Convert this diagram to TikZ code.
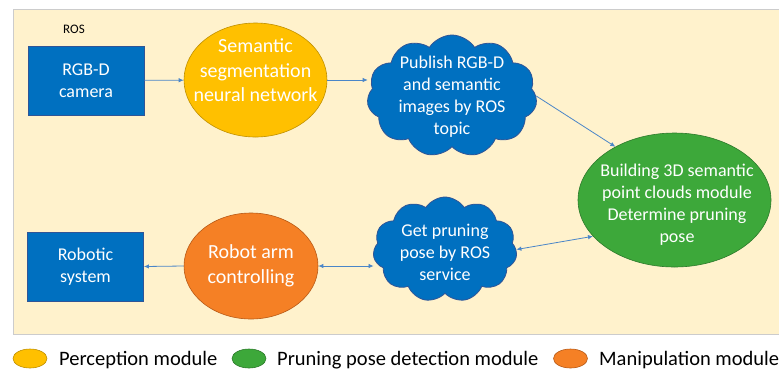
\documentclass[tikz,border=0pt]{standalone}
\usepackage{fontspec}
\setmainfont{Carlito}
\usetikzlibrary{shapes.geometric,shapes.symbols,arrows.meta}
\definecolor{bgc}{HTML}{FFF2CC}
\definecolor{bgline}{HTML}{CCCCCC}
\definecolor{bluef}{HTML}{0070C0}
\definecolor{bluel}{HTML}{2F5597}
\definecolor{yelf}{HTML}{FFC000}
\definecolor{yell}{HTML}{BF9000}
\definecolor{oraf}{HTML}{F58025}
\definecolor{oral}{HTML}{B85A16}
\definecolor{grnf}{HTML}{3DA83A}
\definecolor{grnl}{HTML}{2D7A2B}
\definecolor{arr}{HTML}{4A86C8}
\tikzset{
  boxnode/.style={draw=bluel, fill=bluef, line width=0.8pt, minimum width=116pt, minimum height=69pt, text=white, align=center, font=\fontsize{18}{22}\selectfont, inner sep=0pt},
  ellnode/.style={ellipse, line width=0.6pt, inner sep=0pt},
  cloudnode/.style={cloud, cloud puffs=11, cloud puff arc=115, aspect=1.35, draw=bluel, fill=bluef, line width=0.8pt, inner sep=0pt},
  bigtext/.style={text=white, align=center, font=\fontsize{20}{24.5}\selectfont, inner sep=0pt},
  midtext/.style={text=white, align=center, font=\fontsize{18}{22}\selectfont, inner sep=0pt},
  legtext/.style={anchor=west, font=\fontsize{20.5}{24}\selectfont, inner sep=0pt},
  conn/.style={draw=arr, line width=0.8pt, -{Latex[length=5pt,width=4.5pt]}},
  dconn/.style={draw=arr, line width=0.8pt, {Latex[length=5pt,width=4.5pt]}-{Latex[length=5pt,width=4.5pt]}},
}
\begin{document}
\begin{tikzpicture}[x=1pt,y=-1pt]
\clip (0,0) rectangle (779,376);
\fill[white] (0,0) rectangle (779,376);
\draw[bgline, fill=bgc, line width=0.8pt] (13,9) rectangle (790,334);
\node[font=\fontsize{13}{15}\selectfont, inner sep=0pt] (ros) at (74,29) {ROS};

\node[boxnode] (rgbd) at (86,80.5) {RGB-D\\camera};
\node[boxnode] (robot) at (85.5,266.5) {Robotic\\system};

\node[ellnode, draw=yell, fill=yelf, minimum width=143pt, minimum height=114pt] (sem) at (255.5,80) {};
\node[bigtext] (semt) at (255.5,70.5) {Semantic\\segmentation\\neural network};

\node[ellnode, draw=oral, fill=oraf, minimum width=134pt, minimum height=106pt] (arm) at (251,266) {};
\node[bigtext] (armt) at (251,266) {Robot arm\\controlling};

\node[ellnode, draw=grnl, fill=grnf, minimum width=193pt, minimum height=134pt] (grn) at (674.5,200) {};
\node[midtext] (grnt) at (677,205) {Building 3D semantic\\point clouds module\\Determine pruning\\pose};

\node[cloudnode, minimum width=170pt, minimum height=122pt] (c1) at (452,96) {};
\node[midtext] (c1t) at (452,97) {Publish RGB-D\\and semantic\\images by ROS\\topic};

\node[cloudnode, minimum width=144pt, minimum height=105pt] (c2) at (445,249.5) {};
\node[midtext] (c2t) at (445,252) {Get pruning\\pose by ROS\\service};

\draw[conn] (rgbd) -- (sem);
\draw[conn] (sem.east) -- (sem.east -| c1.west);
\draw[conn] (c1.east) -- (grn.138);
\draw[dconn] (c2.east) -- (grn.204);
\draw[dconn] (arm.east) -- (arm.east -| c2.west);
\draw[conn] (arm.west) -- (robot.east);

\node[ellnode, draw=yell, fill=yelf, minimum width=34pt, minimum height=19pt] (ly) at (30,358.5) {};
\node[legtext] (lyt) at (59,360) {Perception module};
\node[ellnode, draw=grnl, fill=grnf, minimum width=34pt, minimum height=19pt] (lg) at (249,358.5) {};
\node[legtext] (lgt) at (277,360) {Pruning pose detection module};
\node[ellnode, draw=oral, fill=oraf, minimum width=34pt, minimum height=19pt] (lo) at (570.5,358.5) {};
\node[legtext] (lot) at (599,360) {Manipulation module};
\end{tikzpicture}
\end{document}
